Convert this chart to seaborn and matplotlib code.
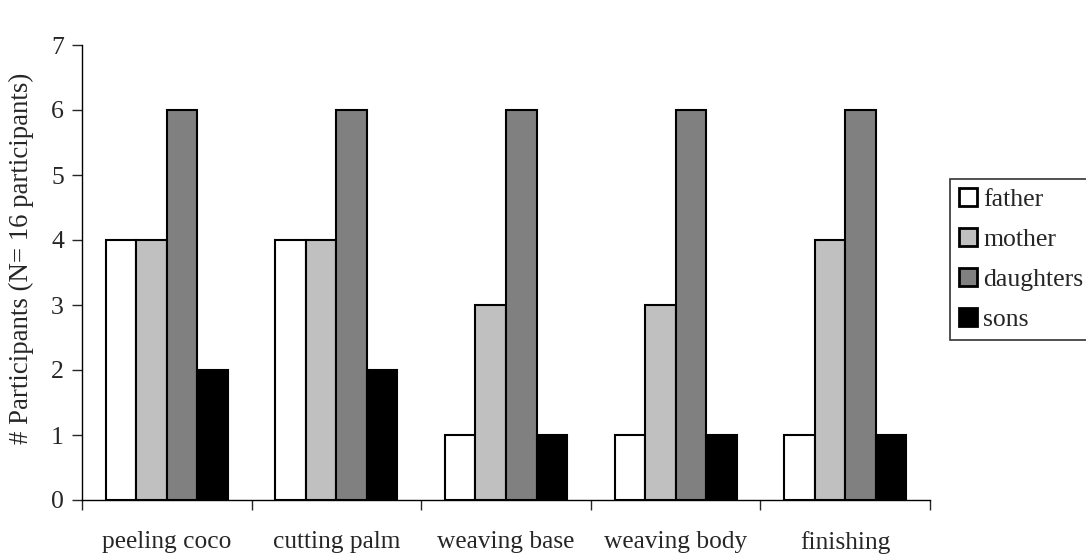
import numpy as np
import pandas as pd
import matplotlib
matplotlib.use("Agg")
import matplotlib.pyplot as plt
import seaborn as sns

tasks = ["peeling coco", "cutting palm", "weaving base", "weaving body", "finishing"]
members = ["father", "mother", "daughters", "sons"]
father = [4, 4, 1, 1, 1]
mother = [4, 4, 3, 3, 4]
daughters = [6, 6, 6, 6, 6]
sons = [2, 2, 1, 1, 1]
colors = ["#FFFFFF", "#C0C0C0", "#808080", "#000000"]

df = pd.DataFrame({"task": tasks, "father": father, "mother": mother,
                   "daughters": daughters, "sons": sons})
df = df.melt(id_vars="task", var_name="member", value_name="count")

sns.set_style("white")
plt.rcParams["font.family"] = ["Liberation Serif", "DejaVu Serif"]

W, H = 1086, 556
fig = plt.figure(figsize=(W / 100, H / 100), dpi=100)
ax = fig.add_axes([82 / W, 1 - 500 / H, (930 - 82) / W, (500 - 45) / H])

sns.barplot(data=df, x="task", y="count", hue="member", order=tasks,
            hue_order=members, palette=colors, width=0.72,
            edgecolor="black", linewidth=1.5, ax=ax)

ax.set_xlim(-0.5, len(tasks) - 0.5)
ax.set_ylim(0, 7)
ax.set_yticks(range(0, 8))
ax.set_xlabel("")
ax.set_ylabel("# Participants (N= 16 participants)", fontsize=19.3)
ax.yaxis.set_label_coords(-0.057, 0.532)
ax.set_xticks(np.arange(len(tasks)))
ax.set_xticklabels(tasks, fontsize=18.3)
ax.set_xticks(np.arange(-0.5, len(tasks)), minor=True)
ax.tick_params(axis="x", which="major", length=0, pad=22)
ax.tick_params(axis="x", which="minor", length=7, width=1, direction="out", bottom=True)
ax.tick_params(axis="y", length=7, width=1, direction="out", left=True, labelsize=18.5, pad=6)
for s in ["top", "right"]:
    ax.spines[s].set_visible(False)
for s in ["left", "bottom"]:
    ax.spines[s].set_color("black")
    ax.spines[s].set_linewidth(1)

handles, labels = ax.get_legend_handles_labels()
ax.legend_.remove()
leg = fig.legend(handles, labels, loc="upper left", bbox_to_anchor=(950 / W, 1 - 179 / H),
                 frameon=True, fancybox=False, edgecolor="black", fontsize=18.5,
                 handlelength=0.7, handleheight=0.7, handletextpad=0.25,
                 labelspacing=0.66, borderpad=0.35, borderaxespad=0)
leg.get_frame().set_linewidth(1.2)
for h in leg.legend_handles:
    h.set_linewidth(2)

fig.savefig("out.png", dpi=100)
